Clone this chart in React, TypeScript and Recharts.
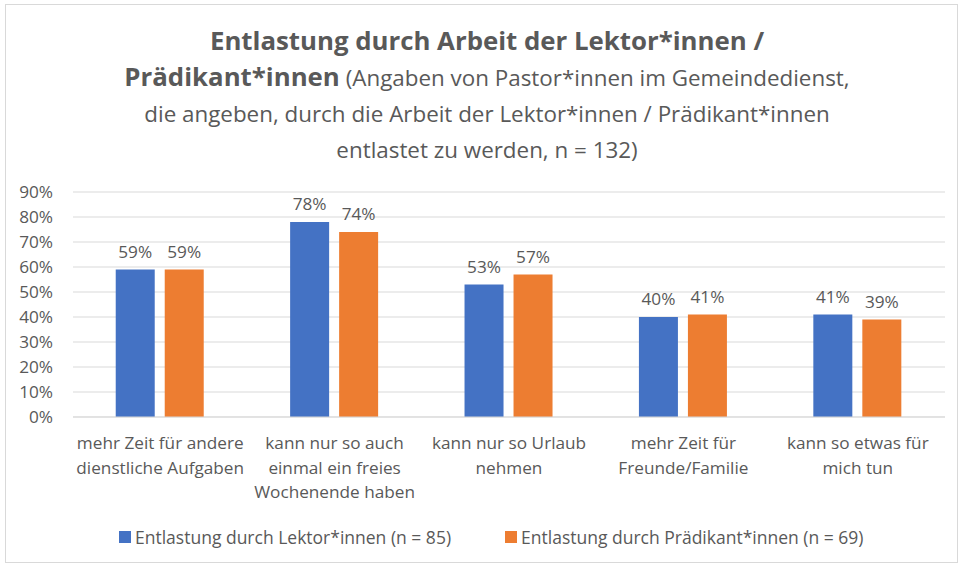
import React from 'react';
import { BarChart, Bar, XAxis, YAxis, CartesianGrid, LabelList } from 'recharts';

const categories = [
  'mehr Zeit für andere\ndienstliche Aufgaben',
  'kann nur so auch\neinmal ein freies\nWochenende haben',
  'kann nur so Urlaub\nnehmen',
  'mehr Zeit für\nFreunde/Familie',
  'kann so etwas für\nmich tun',
];
const lektorValues = [59, 78, 53, 40, 41];
const praedikantValues = [59, 74, 57, 41, 39];
const yTicks = [0, 10, 20, 30, 40, 50, 60, 70, 80, 90];

const seriesNames = ['Entlastung durch Lektor*innen (n = 85)', 'Entlastung durch Prädikant*innen (n = 69)'];
const seriesColors = ['#4472C4', '#ED7D31'];

const data = categories.map((c, i) => ({
  name: c,
  lektor: lektorValues[i],
  praedikant: praedikantValues[i],
}));

const FONT = '"Open Sans", Lato, sans-serif';
const GRAY = '#595959';
const FS = 17.2;

const CategoryTick = (props: any) => {
  const { x, y, payload } = props;
  const lines = String(payload.value).split('\n');
  return (
    <g transform={`translate(${x},${y})`}>
      {lines.map((l, i) => (
        <text key={i} x={0} y={18 + i * 24.5} dy="0.35em" textAnchor="middle" fill={GRAY} fontSize={FS} fontFamily={FONT}>
          {l}
        </text>
      ))}
    </g>
  );
};

export default function App() {
  return (
    <div style={{ position: 'absolute', left: 0, top: 0, width: 962, height: 567, background: '#fff', fontFamily: FONT }}>
      <div style={{ position: 'absolute', left: 5, top: 4, width: 951, height: 557, border: '1px solid #d9d9d9' }} />
      <div style={{ position: 'absolute', left: 6, top: 22, width: 962, textAlign: 'center', color: GRAY, fontSize: 22.4, lineHeight: '36px' }}>
        <div style={{ fontWeight: 700, fontSize: 25.8 }}>Entlastung durch Arbeit der Lektor*innen /</div>
        <div>
          <span style={{ fontWeight: 700, fontSize: 25.8 }}>Prädikant*innen</span> (Angaben von Pastor*innen im Gemeindedienst,
        </div>
        <div>die angeben, durch die Arbeit der Lektor*innen / Prädikant*innen</div>
        <div>entlastet zu werden, n = 132)</div>
      </div>
      <div style={{ position: 'absolute', left: 0, top: 0 }}>
        <BarChart
          width={962}
          height={567}
          data={data}
          margin={{ top: 192, right: 17, bottom: 70, left: 0 }}
          barCategoryGap="24.5%"
          barGap={10}
        >
          <CartesianGrid vertical={false} stroke="#d9d9d9" />
          <XAxis
            dataKey="name"
            interval={0}
            height={80}
            tickLine={false}
            axisLine={{ stroke: '#d9d9d9' }}
            tick={<CategoryTick />}
          />
          <YAxis
            width={73}
            domain={[0, 90]}
            ticks={yTicks}
            interval={0}
            tickFormatter={(v: number) => `${v}%`}
            axisLine={false}
            tickLine={false}
            tickSize={0}
            tickMargin={20}
            tick={{ fill: GRAY, fontSize: FS, fontFamily: FONT }}
          />
          <Bar dataKey="lektor" fill={seriesColors[0]} isAnimationActive={false}>
            <LabelList dataKey="lektor" position="top" offset={12} formatter={(v: any) => `${v}%`} fill={GRAY} fontSize={FS} fontFamily={FONT} />
          </Bar>
          <Bar dataKey="praedikant" fill={seriesColors[1]} isAnimationActive={false}>
            <LabelList dataKey="praedikant" position="top" offset={12} formatter={(v: any) => `${v}%`} fill={GRAY} fontSize={FS} fontFamily={FONT} />
          </Bar>
        </BarChart>
      </div>
      <div style={{ position: 'absolute', left: 119, top: 525, display: 'flex', gap: 54, color: GRAY, fontSize: 17.5 }}>
        {seriesNames.map((n, i) => (
          <div key={n} style={{ display: 'flex', alignItems: 'center', lineHeight: '24px' }}>
            <span style={{ display: 'inline-block', width: 12, height: 12, background: seriesColors[i], marginRight: 4 }} />
            {n}
          </div>
        ))}
      </div>
    </div>
  );
}
